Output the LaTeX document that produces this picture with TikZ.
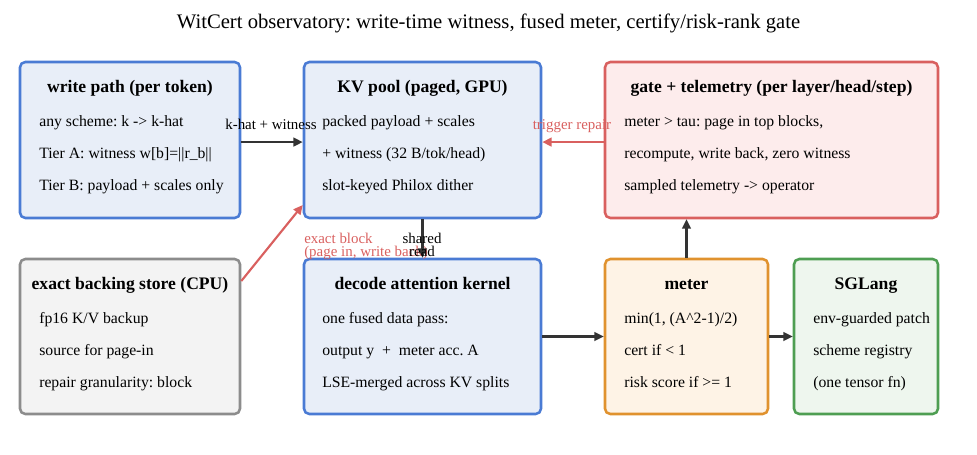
\documentclass[tikz,border=0pt]{standalone}
\usepackage{fontspec}
\setmainfont{Liberation Serif}
\usetikzlibrary{arrows.meta,calc}
\frenchspacing
\definecolor{bluebd}{HTML}{4A7BD4}
\definecolor{bluefill}{HTML}{E8EEF8}
\definecolor{redbd}{HTML}{D9605F}
\definecolor{redfill}{HTML}{FDECEC}
\definecolor{graybd}{HTML}{8C8C8C}
\definecolor{grayfill}{HTML}{F3F3F3}
\definecolor{orbd}{HTML}{E0922E}
\definecolor{orfill}{HTML}{FEF3E6}
\definecolor{grbd}{HTML}{4E9E52}
\definecolor{grfill}{HTML}{EEF6EE}
\definecolor{darkln}{HTML}{333333}
\tikzset{
  box/.style={draw, line width=1.9pt, rounded corners=4pt, inner sep=0pt},
  bluebox/.style={box, draw=bluebd, fill=bluefill},
  redbox/.style={box, draw=redbd, fill=redfill},
  graybox/.style={box, draw=graybd, fill=grayfill},
  orbox/.style={box, draw=orbd, fill=orfill},
  grbox/.style={box, draw=grbd, fill=grfill},
  hdr/.style={anchor=base, inner sep=0pt, font=\fontsize{13.2pt}{15pt}\selectfont\bfseries\frenchspacing},
  bodytxt/.style={anchor=base west, inner sep=0pt, font=\fontsize{11.8pt}{13pt}\selectfont\frenchspacing},
  elabel/.style={inner sep=0pt, font=\fontsize{11.2pt}{12.5pt}\selectfont\frenchspacing},
  conn/.style={line width=1.6pt, draw=darkln, -{Triangle[length=7pt,width=6.5pt]}},
  rconn/.style={line width=1.6pt, draw=redbd, -{Triangle[length=7pt,width=6.5pt]}},
}
\begin{document}
\begin{tikzpicture}[x=0.75pt,y=-0.75pt]
\path[use as bounding box] (0,0) rectangle (977,454);
% title
\node[anchor=base, inner sep=0pt, font=\fontsize{15.5pt}{17pt}\selectfont\frenchspacing] (title) at (488.5,28) {WitCert observatory: write-time witness, fused meter, certify/risk-rank gate};
% boxes
\node[bluebox, minimum width=165pt, minimum height=117pt] (wp) at (130,140) {};
\node[bluebox, minimum width=177.75pt, minimum height=117pt] (kv) at (422.5,140) {};
\node[redbox, minimum width=249.75pt, minimum height=117pt] (gate) at (771.5,140) {};
\node[graybox, minimum width=165pt, minimum height=116.25pt] (es) at (130,336.5) {};
\node[bluebox, minimum width=177.75pt, minimum height=116.25pt] (dec) at (422.5,336.5) {};
\node[orbox, minimum width=122.25pt, minimum height=116.25pt] (met) at (686.5,336.5) {};
\node[grbox, minimum width=108pt, minimum height=116.25pt] (sg) at (866,336.5) {};
% write path
\node[hdr] (wph) at (130,92) {write path (per token)};
\node[bodytxt] (wp1) at (39,126) {any scheme: k -> k-hat};
\node[bodytxt] (wp2) at (39,158) {Tier A: witness w[b]=||r\_b||};
\node[bodytxt] (wp3) at (39,190) {Tier B: payload + scales only};
% kv pool
\node[hdr] (kvh) at (422.5,92) {KV pool (paged, GPU)};
\node[bodytxt] (kv1) at (322,126) {packed payload + scales};
\node[bodytxt] (kv2) at (322,158) {+ witness (32 B/tok/head)};
\node[bodytxt] (kv3) at (322,190) {slot-keyed Philox dither};
% gate
\node[hdr] (gateh) at (771.5,92) {gate + telemetry (per layer/head/step)};
\node[bodytxt] (g1) at (624,126) {meter > tau: page in top blocks,};
\node[bodytxt] (g2) at (624,158) {recompute, write back, zero witness};
\node[bodytxt] (g3) at (624,190) {sampled telemetry -> operator};
% exact store
\node[hdr] (esh) at (130,289) {exact backing store (CPU)};
\node[bodytxt] (es1) at (39,323) {fp16 K/V backup};
\node[bodytxt] (es2) at (39,355) {source for page-in};
\node[bodytxt] (es3) at (39,387) {repair granularity: block};
% decode
\node[hdr] (dech) at (422.5,289) {decode attention kernel};
\node[bodytxt] (d1) at (322,323) {one fused data pass:};
\node[bodytxt] (d2) at (322,355) {output y \ + \ meter acc. A};
\node[bodytxt] (d3) at (322,387) {LSE-merged across KV splits};
% meter
\node[hdr] (meth) at (686.5,289) {meter};
\node[bodytxt] (m1) at (624,323) {min(1, (A\^{}2-1)/2)};
\node[bodytxt] (m2) at (624,355) {cert if < 1};
\node[bodytxt] (m3) at (624,387) {risk score if >= 1};
% sglang
\node[hdr] (sgh) at (866,289) {SGLang};
\node[bodytxt] (s1) at (813,323) {env-guarded patch};
\node[bodytxt] (s2) at (813,355) {scheme registry};
\node[bodytxt] (s3) at (813,387) {(one tensor fn)};
% connectors
\draw[conn] ($(wp.north east)!0.513!(wp.south east)$) -- ($(kv.north west)!0.513!(kv.south west)$);
\node[elabel, anchor=base] (l1) at (271,129) {k-hat + witness};
\draw[rconn] ($(gate.north west)!0.513!(gate.south west)$) -- ($(kv.north east)!0.513!(kv.south east)$);
\node[elabel, anchor=base, text=redbd] (l2) at (572,129) {trigger repair};
\draw[rconn] ($(es.north east)!0.148!(es.south east)$) -- ($(kv.north west)!0.91!(kv.south west)$);
\node[elabel, anchor=base west, text=redbd] (l3) at (304,243) {exact block};
\node[elabel, anchor=base west, text=redbd] (l3b) at (304,256) {(page in, write back)};
\draw[conn] (kv.south) -- (dec.north);
\node[elabel, anchor=base] (l4) at (422,243) {shared};
\node[elabel, anchor=base] (l4b) at (422,256) {read};
\draw[conn] (dec.east) -- (met.west);
\draw[conn] (met.north) -- (gate.south -| met.north);
\draw[conn] (met.east) -- (sg.west);
\end{tikzpicture}
\end{document}
